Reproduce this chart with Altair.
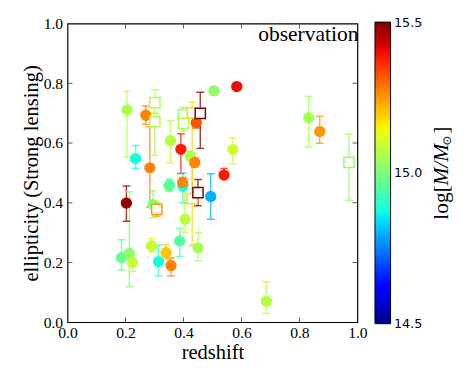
import altair as alt
import pandas as pd
import numpy as np

# ---- data ----
circle_z = [0.205, 0.235, 0.270, 0.284, 0.203, 0.186, 0.213, 0.224, 0.290, 0.314,
            0.340, 0.357, 0.349, 0.352, 0.398, 0.397, 0.405, 0.387, 0.450, 0.494,
            0.540, 0.686, 0.505, 0.584, 0.570, 0.832, 0.870, 0.355, 0.391, 0.424,
            0.439, 0.444, 0.295]
circle_e = [0.711, 0.548, 0.693, 0.517, 0.399, 0.216, 0.230, 0.200, 0.256, 0.203,
            0.233, 0.190, 0.457, 0.459, 0.455, 0.468, 0.345, 0.272, 0.249, 0.421,
            0.493, 0.070, 0.775, 0.789, 0.578, 0.685, 0.639, 0.608, 0.579, 0.557,
            0.535, 0.668, 0.394]
circle_lo = [0.554, 0.515, 0.663, 0.385, 0.338, 0.175, 0.119, 0.170, 0.235, 0.155,
             0.210, 0.155, 0.440, 0.440, 0.400, 0.450, 0.300, 0.220, 0.205, 0.345,
             0.485, 0.029, 0.760, 0.780, 0.530, 0.587, 0.599, 0.533, 0.498, 0.540,
             0.520, 0.650, 0.350]
circle_hi = [0.773, 0.592, 0.724, 0.655, 0.456, 0.276, 0.437, 0.225, 0.280, 0.258,
             0.260, 0.215, 0.475, 0.480, 0.500, 0.485, 0.460, 0.314, 0.300, 0.497,
             0.515, 0.135, 0.780, 0.800, 0.617, 0.756, 0.690, 0.675, 0.631, 0.570,
             0.550, 0.690, 0.440]
circle_logm = [15.06, 14.88, 15.27, 15.27, 15.48, 14.97, 15.02, 15.09, 15.09, 14.88,
               15.20, 15.27, 15.07, 14.95, 14.88, 15.27, 15.08, 14.95, 15.05, 14.80,
               15.38, 15.07, 15.02, 15.40, 15.10, 15.05, 15.25, 15.07, 15.38, 15.06,
               15.27, 15.32, 15.01]

square_z = [0.301, 0.301, 0.400, 0.400, 0.430, 0.430, 0.458, 0.450, 0.308, 0.971]
square_e = [0.735, 0.672, 0.695, 0.666, 0.701, 0.414, 0.699, 0.434, 0.378, 0.535]
square_lo = [0.700, 0.559, 0.660, 0.640, 0.410, 0.257, 0.582, 0.390, 0.355, 0.408]
square_hi = [0.778, 0.700, 0.720, 0.690, 0.737, 0.560, 0.770, 0.478, 0.400, 0.630]
square_logm = [15.06, 15.06, 15.03, 15.06, 15.18, 15.18, 15.50, 15.50, 15.25, 15.03]

x_ticks = [0.0, 0.2, 0.4, 0.6, 0.8, 1.0]
y_ticks = [0.0, 0.2, 0.4, 0.6, 0.8, 1.0]
cbar_ticks = [14.5, 15.0, 15.5]
cbar_min, cbar_max = 14.5, 15.5

W, H = 297, 306
serif = "Liberation Serif"

# ---- jet colormap as a piecewise-linear colour scale ----
def jet_hex(t):
    r = np.interp(t, [0, 0.35, 0.66, 0.89, 1], [0, 0, 1, 1, 0.5])
    g = np.interp(t, [0, 0.125, 0.375, 0.64, 0.91, 1], [0, 0, 1, 1, 0, 0])
    b = np.interp(t, [0, 0.11, 0.34, 0.65, 1], [0.5, 1, 1, 0, 0])
    return "#%02x%02x%02x" % (int(round(r * 255)), int(round(g * 255)), int(round(b * 255)))

ts = np.linspace(0, 1, 41)
cdomain = [float(cbar_min + t * (cbar_max - cbar_min)) for t in ts]
crange = [jet_hex(t) for t in ts]
cscale = alt.Scale(domain=cdomain, range=crange, interpolate="rgb", clamp=True)

circles = pd.DataFrame({"z": circle_z, "e": circle_e, "lo": circle_lo,
                        "hi": circle_hi, "m": circle_logm})
squares = pd.DataFrame({"z": square_z, "e": square_e, "lo": square_lo,
                        "hi": square_hi, "m": square_logm})
allpts = pd.concat([circles, squares], ignore_index=True)

xax = alt.Axis(title="redshift", values=x_ticks, format=".1f", ticks=False, domain=False,
               grid=False, labelFont=serif, labelFontSize=16, labelColor="black",
               titleFont=serif, titleFontSize=21, titleFontWeight="normal",
               titleColor="black", labelPadding=3, titlePadding=1, labelFlush=False)
yax = alt.Axis(title="ellipticity (Strong lensing)", values=y_ticks, format=".1f",
               ticks=False, domain=False, grid=False, labelFont=serif, labelFontSize=16,
               labelColor="black", titleFont=serif, titleFontSize=21,
               titleFontWeight="normal", titleColor="black", labelPadding=5,
               titlePadding=2, labelFlush=False, orient="left")
xs = alt.Scale(domain=[0, 1], nice=False)
ys = alt.Scale(domain=[0, 1], nice=False)

def X(f):
    return alt.X(f, type="quantitative", scale=xs, axis=xax)

def Y(f):
    return alt.Y(f, type="quantitative", scale=ys, axis=yax)

def C():
    return alt.Color("m:Q", scale=cscale, legend=None)

bars = alt.Chart(allpts).mark_rule(strokeWidth=1.5, opacity=0.75).encode(
    x=X("z"), y=Y("lo"), y2="hi", color=C())
caps_lo = alt.Chart(allpts).mark_tick(orient="horizontal", size=8, thickness=1.5,
                                      opacity=0.75).encode(x=X("z"), y=Y("lo"), color=C())
caps_hi = alt.Chart(allpts).mark_tick(orient="horizontal", size=8, thickness=1.5,
                                      opacity=0.75).encode(x=X("z"), y=Y("hi"), color=C())
dots = alt.Chart(circles).mark_circle(size=135, opacity=1).encode(
    x=X("z"), y=Y("e"), color=C())
boxes = alt.Chart(squares).mark_point(shape="square", size=110, filled=False,
                                      fill="white", fillOpacity=1, strokeWidth=1.5,
                                      opacity=1).encode(x=X("z"), y=Y("e"), color=C())

xt = pd.DataFrame({"v": x_ticks[1:-1]})
yt = pd.DataFrame({"v": y_ticks[1:-1]})
tick_b = alt.Chart(xt).mark_rule(color="#555", strokeWidth=1).encode(
    x=X("v"), y=alt.value(H), y2=alt.value(H - 5))
tick_t = alt.Chart(xt).mark_rule(color="#555", strokeWidth=1).encode(
    x=X("v"), y=alt.value(0), y2=alt.value(5))
tick_l = alt.Chart(yt).mark_rule(color="#555", strokeWidth=1).encode(
    y=Y("v"), x=alt.value(0), x2=alt.value(5))
tick_r = alt.Chart(yt).mark_rule(color="#555", strokeWidth=1).encode(
    y=Y("v"), x=alt.value(W), x2=alt.value(W - 5))

label = alt.Chart(pd.DataFrame({"t": ["observation"]})).mark_text(
    font=serif, fontSize=22, align="right", baseline="middle", color="black").encode(
    text="t:N", x=alt.value(W + 1), y=alt.value(11))

# colour bar title: log[M/M_sun], rotated
cbx = 383
t1 = alt.Chart(pd.DataFrame({"t": ["log["]})).mark_text(
    font=serif, fontSize=22, angle=270, align="left", baseline="middle",
    color="black").encode(text="t:N", x=alt.value(cbx), y=alt.value(201))
t2 = alt.Chart(pd.DataFrame({"t": ["M/M"]})).mark_text(
    font=serif, fontSize=22, fontStyle="italic", angle=270, align="left",
    baseline="middle", color="black").encode(text="t:N", x=alt.value(cbx), y=alt.value(166))
t3 = alt.Chart(pd.DataFrame({"t": ["⊙"]})).mark_text(
    font="DejaVu Sans", fontSize=12, angle=270, align="left", baseline="middle",
    color="black").encode(text="t:N", x=alt.value(cbx + 6), y=alt.value(125))
t4 = alt.Chart(pd.DataFrame({"t": ["]"]})).mark_text(
    font=serif, fontSize=22, angle=270, align="left", baseline="middle",
    color="black").encode(text="t:N", x=alt.value(cbx), y=alt.value(113))

main = alt.layer(bars, caps_lo, caps_hi, dots, boxes, tick_b, tick_t, tick_l, tick_r,
                 label, t1, t2, t3, t4)

# ---- colour bar: one rect spanning the mass range, filled with the jet gradient ----
grad = alt.LinearGradient(
    gradient="linear", x1=0, x2=0, y1=1, y2=0,
    stops=[alt.GradientStop(offset=float(t), color=c) for t, c in zip(ts, crange)])
cbar_df = pd.DataFrame({"lo": [cbar_min], "hi": [cbar_max]})
cbar = alt.Chart(cbar_df).mark_rect(fill=grad, stroke="black", strokeWidth=1).encode(
    x=alt.value(W + 18), x2=alt.value(W + 34),
    y=alt.Y("lo:Q", scale=alt.Scale(domain=[cbar_min, cbar_max], range=[H + 1.5, -1.5],
                                    nice=False, zero=False),
            axis=alt.Axis(orient="right", offset=34, values=cbar_ticks, format=".1f",
                          labelFont="DejaVu Sans", labelFontSize=13, labelColor="black",
                          ticks=False, domain=False, grid=False, title=None,
                          labelPadding=3, labelFlush=False)),
    y2="hi")

chart = alt.layer(main, cbar).resolve_scale(y="independent").properties(
    width=W, height=H,
    autosize=alt.AutoSizeParams(type="none"),
    padding={"left": 61, "top": 11.5, "right": 100, "bottom": 45},
).configure_view(stroke="black", strokeWidth=1.2)

chart.save("out.html", embed_options={"renderer": "svg", "actions": False})
